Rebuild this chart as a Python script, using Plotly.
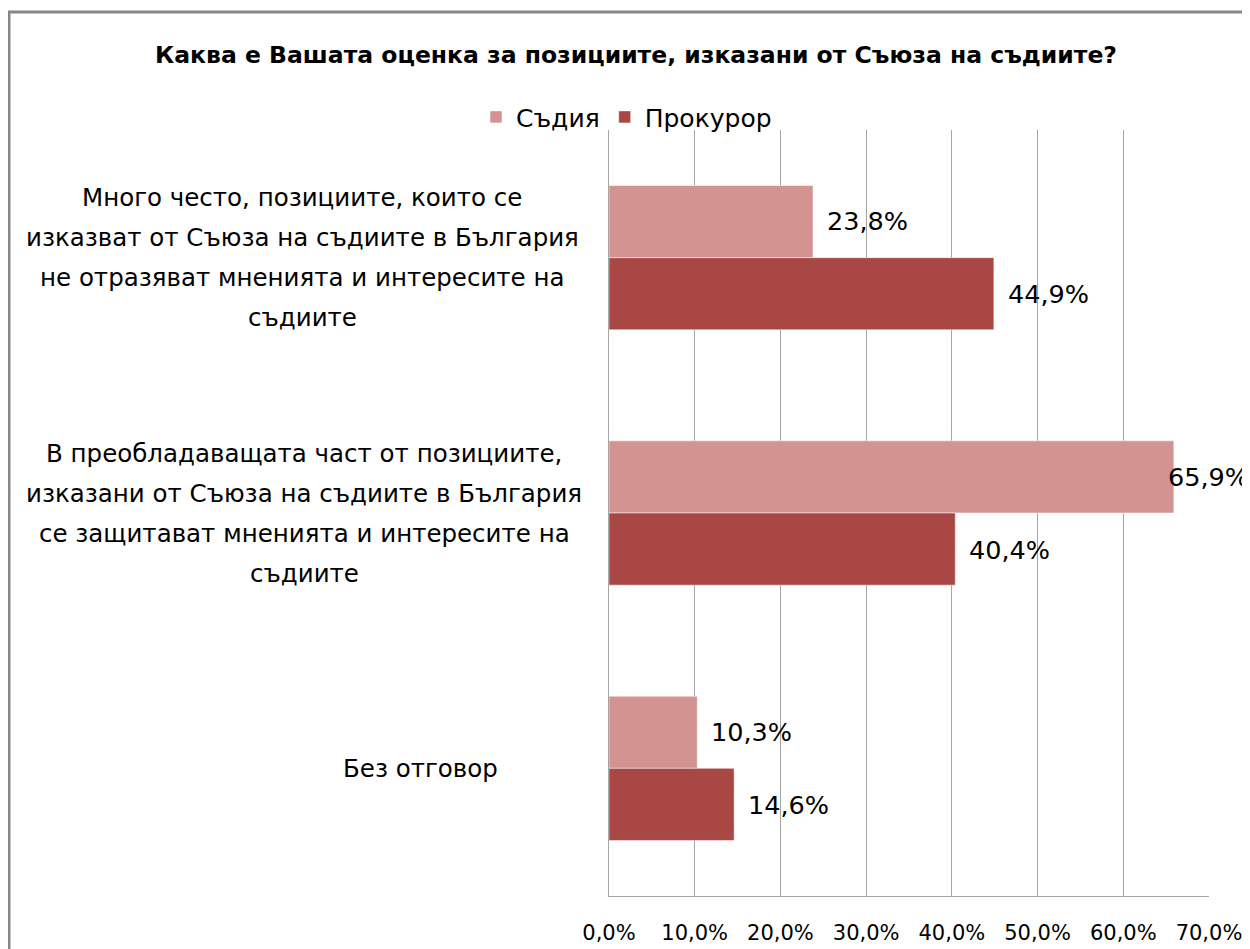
import plotly.graph_objects as go

categories = [
    "Много често, позициите, които се<br>изказват от Съюза на съдиите в България<br>не отразяват мненията и интересите на<br>съдиите",
    "В преобладаващата част от позициите,<br>изказани от Съюза на съдиите в България<br>се защитават мненията и интересите на<br>съдиите",
    "Без отговор",
]
cat_keys = ["c1", "c2", "c3"]
series_names = ["Съдия", "Прокурор"]
judge = [23.8, 65.9, 10.3]
prosecutor = [44.9, 40.4, 14.6]
tick_vals = [0, 10, 20, 30, 40, 50, 60, 70]
colors = ["#D39391", "#A94745"]

FONT = "DejaVu Sans"
W, H = 1250, 949
OFF = 8  # browser body margin
L, R, T, B = 609 - OFF, 1250 - (1209 - OFF), 130 - OFF, 949 - (905 - OFF)
plot_w = W - L - R
plot_h = H - T - B

fig = go.Figure()
for name, vals, col in zip(series_names, [judge, prosecutor], colors):
    fig.add_trace(go.Bar(
        y=cat_keys, x=vals, name=name, orientation="h",
        marker=dict(color=col, line=dict(color="rgba(255,255,255,0.5)", width=1)),
    ))

# data labels
for si, vals in enumerate([judge, prosecutor]):
    for k, v in zip(cat_keys, vals):
        shift = 12 if v < 60 else -8
        fig.add_annotation(
            x=v, y=k, xref="x", yref="y", text=f"{v:.1f}%".replace(".", ","),
            showarrow=False, xanchor="left", yanchor="middle",
            xshift=shift, yshift=(36.5 if si == 0 else -36.5),
            font=dict(family=FONT, size=25.5, color="#000000"),
        )

# category labels (centered multi-line, 40px line spacing)
label_centers_px = [302, 304, 420]
LINE = 40
for k, lab, cx in zip(cat_keys, categories, label_centers_px):
    lines = lab.split("<br>")
    n = len(lines)
    for i, ln in enumerate(lines):
        fig.add_annotation(
            x=(cx - OFF - L) / plot_w, xref="paper", y=k, yref="y",
            text=ln, showarrow=False, xanchor="center", yanchor="middle", align="center",
            yshift=((n - 1) / 2 - i) * LINE,
            font=dict(family=FONT, size=24.5, color="#000000"),
        )

# outer chart border
fig.add_shape(type="rect", xref="paper", yref="paper",
              x0=(1 - L) / plot_w, x1=(1300 - L) / plot_w,
              y0=-(1000 - (H - B)) / plot_h, y1=((H - B) - 2.5) / plot_h,
              line=dict(color="#878787", width=3), fillcolor="rgba(0,0,0,0)", layer="below")

tick_text = [f"{v:.1f}%".replace(".", ",") for v in tick_vals]

fig.update_layout(
    width=W, height=H,
    margin=dict(l=L, r=R, t=T, b=B),
    paper_bgcolor="white", plot_bgcolor="white",
    separators=",.",
    barmode="group", bargap=0.435, bargroupgap=0,
    title=dict(text="<b>Каква е Вашата оценка за позициите, изказани от Съюза на съдиите?</b>",
               x=(636 - OFF) / W, xanchor="center", y=1 - (55 - OFF) / H, yanchor="middle",
               yref="container",
               font=dict(family=FONT, size=23.5, color="#000000")),
    legend=dict(orientation="h", x=(476 - OFF - L) / plot_w, xanchor="left",
                y=1 + (T - (117 - OFF)) / plot_h, yanchor="middle",
                font=dict(family=FONT, size=25, color="#000000"),
                itemwidth=30, traceorder="normal", bgcolor="rgba(0,0,0,0)"),
    xaxis=dict(range=[0, 70], tickvals=tick_vals, ticktext=tick_text,
               showgrid=True, gridcolor="#A6A6A6", gridwidth=1,
               showline=True, linecolor="#A6A6A6", linewidth=1, zeroline=False,
               ticks="", ticklabelstandoff=18,
               tickfont=dict(family=FONT, size=21, color="#000000")),
    yaxis=dict(autorange="reversed", showticklabels=False, showline=True,
               linecolor="#A6A6A6", linewidth=1, showgrid=False, ticks=""),
)

fig.write_html("out.html")
